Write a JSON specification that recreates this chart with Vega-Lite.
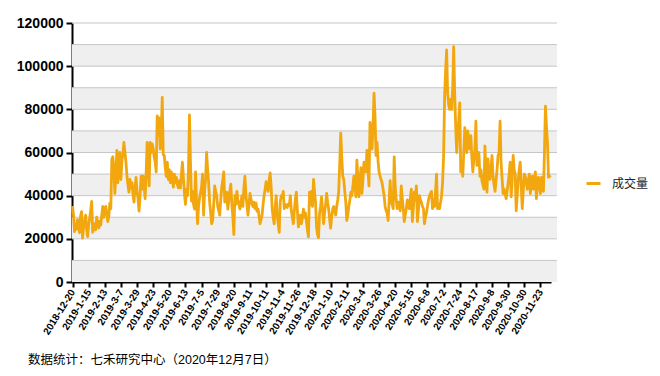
{
  "$schema": "https://vega.github.io/schema/vega-lite/v6.json",
  "width": 485,
  "height": 259,
  "autosize": "none",
  "padding": {"left": 72, "top": 23, "right": 103, "bottom": 94},
  "background": "#ffffff",
  "config": {
    "view": {"stroke": null},
    "axisY": {
      "title": null,
      "grid": false,
      "labelFont": "Liberation Sans",
      "labelFontSize": 14,
      "labelFontWeight": "bold",
      "labelColor": "#000000",
      "labelPadding": 3,
      "tickColor": "#000000",
      "tickWidth": 2,
      "tickSize": 6,
      "domainColor": "#000000",
      "domainWidth": 2
    }
  },
  "title": {
    "text": "数据统计：七禾研究中心（2020年12月7日）",
    "orient": "bottom",
    "anchor": "start",
    "frame": "group",
    "dx": -44,
    "offset": 18,
    "font": "Liberation Sans, Noto Sans CJK SC",
    "fontSize": 12.5,
    "fontWeight": "normal",
    "color": "#000000"
  },
  "datasets": {
    "bands": [
      {"lo": 0, "hi": 10000}, {"lo": 20000, "hi": 30000}, {"lo": 40000, "hi": 50000},
      {"lo": 60000, "hi": 70000}, {"lo": 80000, "hi": 90000}, {"lo": 100000, "hi": 110000}
    ],
    "grid": [
      {"g": 10000}, {"g": 20000}, {"g": 30000}, {"g": 40000}, {"g": 50000}, {"g": 60000},
      {"g": 70000}, {"g": 80000}, {"g": 90000}, {"g": 100000}, {"g": 110000}, {"g": 120000}
    ],
    "vol": [
{"d":"2018-12-20","v":35200},{"d":"2018-12-21","v":31000},{"d":"2018-12-24","v":23300},{"d":"2018-12-25","v":26800},{"d":"2018-12-26","v":24500},{"d":"2018-12-27","v":28900},{"d":"2018-12-28","v":25200},
{"d":"2019-1-2","v":22800},{"d":"2019-1-3","v":30500},{"d":"2019-1-4","v":32600},{"d":"2019-1-7","v":20300},{"d":"2019-1-8","v":25500},{"d":"2019-1-9","v":28000},{"d":"2019-1-10","v":31000},{"d":"2019-1-11","v":24500},{"d":"2019-1-14","v":21000},{"d":"2019-1-15","v":26500},{"d":"2019-1-16","v":29500},{"d":"2019-1-17","v":33000},{"d":"2019-1-18","v":37300},{"d":"2019-1-21","v":23000},{"d":"2019-1-22","v":25500},{"d":"2019-1-23","v":27000},{"d":"2019-1-24","v":24200},{"d":"2019-1-25","v":30000},{"d":"2019-1-28","v":27500},{"d":"2019-1-29","v":25000},{"d":"2019-1-30","v":28200},{"d":"2019-1-31","v":26300},
{"d":"2019-2-1","v":31000},{"d":"2019-2-11","v":35000},{"d":"2019-2-12","v":30000},{"d":"2019-2-13","v":33200},{"d":"2019-2-14","v":35000},{"d":"2019-2-15","v":31500},{"d":"2019-2-18","v":28000},{"d":"2019-2-19","v":30500},{"d":"2019-2-20","v":36500},{"d":"2019-2-21","v":34000},{"d":"2019-2-22","v":56800},{"d":"2019-2-25","v":58000},{"d":"2019-2-26","v":52500},{"d":"2019-2-27","v":41000},{"d":"2019-2-28","v":50000},
{"d":"2019-3-1","v":61000},{"d":"2019-3-4","v":46000},{"d":"2019-3-5","v":55000},{"d":"2019-3-6","v":60000},{"d":"2019-3-7","v":47500},{"d":"2019-3-8","v":56000},{"d":"2019-3-11","v":59500},{"d":"2019-3-12","v":64700},{"d":"2019-3-13","v":60000},{"d":"2019-3-14","v":55500},{"d":"2019-3-15","v":49000},{"d":"2019-3-18","v":45000},{"d":"2019-3-19","v":41600},{"d":"2019-3-20","v":47500},{"d":"2019-3-21","v":43500},{"d":"2019-3-22","v":46000},{"d":"2019-3-25","v":40500},{"d":"2019-3-26","v":37000},{"d":"2019-3-27","v":44000},{"d":"2019-3-28","v":48500},{"d":"2019-3-29","v":42000},
{"d":"2019-4-1","v":38500},{"d":"2019-4-2","v":32800},{"d":"2019-4-3","v":40000},{"d":"2019-4-4","v":49000},{"d":"2019-4-8","v":43000},{"d":"2019-4-9","v":49000},{"d":"2019-4-10","v":44500},{"d":"2019-4-11","v":38600},{"d":"2019-4-12","v":50000},{"d":"2019-4-15","v":64700},{"d":"2019-4-16","v":56000},{"d":"2019-4-17","v":44500},{"d":"2019-4-18","v":64700},{"d":"2019-4-19","v":60000},{"d":"2019-4-22","v":64000},{"d":"2019-4-23","v":62000},{"d":"2019-4-24","v":58000},{"d":"2019-4-25","v":55500},{"d":"2019-4-26","v":51000},{"d":"2019-4-29","v":77000},{"d":"2019-4-30","v":68000},
{"d":"2019-5-6","v":76000},{"d":"2019-5-7","v":61600},{"d":"2019-5-8","v":70000},{"d":"2019-5-9","v":85500},{"d":"2019-5-10","v":59000},{"d":"2019-5-13","v":58600},{"d":"2019-5-14","v":53000},{"d":"2019-5-15","v":49000},{"d":"2019-5-16","v":55500},{"d":"2019-5-17","v":47500},{"d":"2019-5-20","v":52000},{"d":"2019-5-21","v":46000},{"d":"2019-5-22","v":51000},{"d":"2019-5-23","v":47500},{"d":"2019-5-24","v":44000},{"d":"2019-5-27","v":50000},{"d":"2019-5-28","v":46000},{"d":"2019-5-29","v":48500},{"d":"2019-5-30","v":45000},{"d":"2019-5-31","v":43600},
{"d":"2019-6-3","v":47000},{"d":"2019-6-4","v":43600},{"d":"2019-6-5","v":50000},{"d":"2019-6-10","v":55500},{"d":"2019-6-11","v":48000},{"d":"2019-6-12","v":41000},{"d":"2019-6-13","v":36000},{"d":"2019-6-14","v":43000},{"d":"2019-6-17","v":40000},{"d":"2019-6-18","v":52000},{"d":"2019-6-19","v":77400},{"d":"2019-6-20","v":55500},{"d":"2019-6-21","v":37500},{"d":"2019-6-24","v":42000},{"d":"2019-6-25","v":36000},{"d":"2019-6-26","v":33800},{"d":"2019-6-27","v":51000},{"d":"2019-6-28","v":38000},
{"d":"2019-7-1","v":27000},{"d":"2019-7-2","v":35000},{"d":"2019-7-3","v":39000},{"d":"2019-7-4","v":41600},{"d":"2019-7-5","v":44000},{"d":"2019-7-8","v":50000},{"d":"2019-7-9","v":31000},{"d":"2019-7-10","v":42000},{"d":"2019-7-11","v":48000},{"d":"2019-7-12","v":60000},{"d":"2019-7-15","v":52000},{"d":"2019-7-16","v":46000},{"d":"2019-7-17","v":37000},{"d":"2019-7-18","v":32000},{"d":"2019-7-19","v":27000},{"d":"2019-7-22","v":28500},{"d":"2019-7-23","v":36000},{"d":"2019-7-24","v":44500},{"d":"2019-7-25","v":42000},{"d":"2019-7-26","v":40000},{"d":"2019-7-29","v":35000},{"d":"2019-7-30","v":33000},{"d":"2019-7-31","v":31000},
{"d":"2019-8-1","v":38000},{"d":"2019-8-2","v":44000},{"d":"2019-8-5","v":47000},{"d":"2019-8-6","v":51000},{"d":"2019-8-7","v":37000},{"d":"2019-8-8","v":39000},{"d":"2019-8-9","v":41600},{"d":"2019-8-12","v":33800},{"d":"2019-8-13","v":38000},{"d":"2019-8-14","v":42000},{"d":"2019-8-15","v":45300},{"d":"2019-8-16","v":36000},{"d":"2019-8-19","v":30000},{"d":"2019-8-20","v":22000},{"d":"2019-8-21","v":40000},{"d":"2019-8-22","v":36000},{"d":"2019-8-23","v":42000},{"d":"2019-8-26","v":38000},{"d":"2019-8-27","v":36000},{"d":"2019-8-28","v":33800},{"d":"2019-8-29","v":37000},{"d":"2019-8-30","v":40000},
{"d":"2019-9-2","v":35000},{"d":"2019-9-3","v":44000},{"d":"2019-9-4","v":49000},{"d":"2019-9-5","v":40000},{"d":"2019-9-6","v":36000},{"d":"2019-9-9","v":31000},{"d":"2019-9-10","v":36000},{"d":"2019-9-11","v":41000},{"d":"2019-9-12","v":38600},{"d":"2019-9-16","v":36000},{"d":"2019-9-17","v":35000},{"d":"2019-9-18","v":37000},{"d":"2019-9-19","v":34000},{"d":"2019-9-20","v":36500},{"d":"2019-9-23","v":32800},{"d":"2019-9-24","v":33800},{"d":"2019-9-25","v":30500},{"d":"2019-9-26","v":27000},{"d":"2019-9-27","v":29000},{"d":"2019-9-30","v":31000},
{"d":"2019-10-8","v":36000},{"d":"2019-10-9","v":40000},{"d":"2019-10-10","v":43000},{"d":"2019-10-11","v":46500},{"d":"2019-10-14","v":44000},{"d":"2019-10-15","v":42000},{"d":"2019-10-16","v":47000},{"d":"2019-10-17","v":50500},{"d":"2019-10-18","v":44000},{"d":"2019-10-21","v":33800},{"d":"2019-10-22","v":30000},{"d":"2019-10-23","v":27000},{"d":"2019-10-24","v":35000},{"d":"2019-10-25","v":40000},{"d":"2019-10-28","v":31000},{"d":"2019-10-29","v":27000},{"d":"2019-10-30","v":23000},{"d":"2019-10-31","v":37000},
{"d":"2019-11-1","v":40000},{"d":"2019-11-4","v":39000},{"d":"2019-11-5","v":42000},{"d":"2019-11-6","v":34000},{"d":"2019-11-7","v":36000},{"d":"2019-11-8","v":35600},{"d":"2019-11-11","v":34500},{"d":"2019-11-12","v":36000},{"d":"2019-11-13","v":35600},{"d":"2019-11-14","v":40000},{"d":"2019-11-15","v":33000},{"d":"2019-11-18","v":30000},{"d":"2019-11-19","v":27000},{"d":"2019-11-20","v":33000},{"d":"2019-11-21","v":38600},{"d":"2019-11-22","v":41600},{"d":"2019-11-25","v":33000},{"d":"2019-11-26","v":25500},{"d":"2019-11-27","v":29000},{"d":"2019-11-28","v":31000},{"d":"2019-11-29","v":27000},
{"d":"2019-12-2","v":30000},{"d":"2019-12-3","v":33800},{"d":"2019-12-4","v":30000},{"d":"2019-12-5","v":32000},{"d":"2019-12-6","v":28000},{"d":"2019-12-9","v":24000},{"d":"2019-12-10","v":21000},{"d":"2019-12-11","v":41600},{"d":"2019-12-12","v":36000},{"d":"2019-12-13","v":42000},{"d":"2019-12-16","v":35000},{"d":"2019-12-17","v":47500},{"d":"2019-12-18","v":42000},{"d":"2019-12-19","v":37000},{"d":"2019-12-20","v":25500},{"d":"2019-12-23","v":22000},{"d":"2019-12-24","v":20500},{"d":"2019-12-25","v":32000},{"d":"2019-12-26","v":35000},{"d":"2019-12-27","v":39500},{"d":"2019-12-30","v":33000},{"d":"2019-12-31","v":27000},
{"d":"2020-1-2","v":32000},{"d":"2020-1-3","v":36000},{"d":"2020-1-6","v":41000},{"d":"2020-1-7","v":37000},{"d":"2020-1-8","v":33800},{"d":"2020-1-9","v":29000},{"d":"2020-1-10","v":25000},{"d":"2020-1-13","v":30000},{"d":"2020-1-14","v":33800},{"d":"2020-1-15","v":35000},{"d":"2020-1-16","v":33000},{"d":"2020-1-17","v":31000},{"d":"2020-1-20","v":35000},{"d":"2020-1-21","v":38000},{"d":"2020-1-22","v":42000},{"d":"2020-1-23","v":55000},
{"d":"2020-2-3","v":69000},{"d":"2020-2-4","v":58000},{"d":"2020-2-5","v":49000},{"d":"2020-2-6","v":47500},{"d":"2020-2-7","v":42000},{"d":"2020-2-10","v":37000},{"d":"2020-2-11","v":28500},{"d":"2020-2-12","v":31000},{"d":"2020-2-13","v":35000},{"d":"2020-2-14","v":38000},{"d":"2020-2-17","v":41600},{"d":"2020-2-18","v":40000},{"d":"2020-2-19","v":44000},{"d":"2020-2-20","v":49000},{"d":"2020-2-21","v":45000},{"d":"2020-2-24","v":39500},{"d":"2020-2-25","v":56500},{"d":"2020-2-26","v":48000},{"d":"2020-2-27","v":39500},{"d":"2020-2-28","v":46000},
{"d":"2020-3-2","v":53000},{"d":"2020-3-3","v":41000},{"d":"2020-3-4","v":47000},{"d":"2020-3-5","v":55500},{"d":"2020-3-6","v":53000},{"d":"2020-3-9","v":51000},{"d":"2020-3-10","v":61000},{"d":"2020-3-11","v":52000},{"d":"2020-3-12","v":44500},{"d":"2020-3-13","v":74000},{"d":"2020-3-16","v":71000},{"d":"2020-3-17","v":61600},{"d":"2020-3-18","v":72000},{"d":"2020-3-19","v":87500},{"d":"2020-3-20","v":77000},{"d":"2020-3-23","v":58600},{"d":"2020-3-24","v":64700},{"d":"2020-3-25","v":56000},{"d":"2020-3-26","v":51000},{"d":"2020-3-27","v":49000},{"d":"2020-3-30","v":47500},{"d":"2020-3-31","v":46000},
{"d":"2020-4-1","v":43000},{"d":"2020-4-2","v":40000},{"d":"2020-4-3","v":35000},{"d":"2020-4-7","v":33000},{"d":"2020-4-8","v":32000},{"d":"2020-4-9","v":28500},{"d":"2020-4-10","v":38000},{"d":"2020-4-13","v":47000},{"d":"2020-4-14","v":37000},{"d":"2020-4-15","v":36000},{"d":"2020-4-16","v":34000},{"d":"2020-4-17","v":58000},{"d":"2020-4-20","v":44500},{"d":"2020-4-21","v":38000},{"d":"2020-4-22","v":34000},{"d":"2020-4-23","v":37000},{"d":"2020-4-24","v":35500},{"d":"2020-4-27","v":33000},{"d":"2020-4-28","v":44500},{"d":"2020-4-29","v":39000},{"d":"2020-4-30","v":34000},
{"d":"2020-5-6","v":28000},{"d":"2020-5-7","v":31000},{"d":"2020-5-8","v":34000},{"d":"2020-5-11","v":38000},{"d":"2020-5-12","v":35000},{"d":"2020-5-13","v":34000},{"d":"2020-5-14","v":39000},{"d":"2020-5-15","v":43000},{"d":"2020-5-18","v":28000},{"d":"2020-5-19","v":34000},{"d":"2020-5-20","v":41600},{"d":"2020-5-21","v":38000},{"d":"2020-5-22","v":44500},{"d":"2020-5-25","v":28000},{"d":"2020-5-26","v":33000},{"d":"2020-5-27","v":40000},{"d":"2020-5-28","v":38000},{"d":"2020-5-29","v":37000},
{"d":"2020-6-1","v":35000},{"d":"2020-6-2","v":34000},{"d":"2020-6-3","v":27000},{"d":"2020-6-4","v":30000},{"d":"2020-6-5","v":32000},{"d":"2020-6-8","v":35000},{"d":"2020-6-9","v":38000},{"d":"2020-6-10","v":40000},{"d":"2020-6-11","v":41000},{"d":"2020-6-12","v":42000},{"d":"2020-6-15","v":34000},{"d":"2020-6-16","v":38000},{"d":"2020-6-17","v":35000},{"d":"2020-6-18","v":42000},{"d":"2020-6-19","v":50000},{"d":"2020-6-22","v":34000},{"d":"2020-6-23","v":36000},{"d":"2020-6-24","v":34000},{"d":"2020-6-29","v":37000},{"d":"2020-6-30","v":40000},
{"d":"2020-7-1","v":46000},{"d":"2020-7-2","v":58600},{"d":"2020-7-3","v":86000},{"d":"2020-7-6","v":98000},{"d":"2020-7-7","v":107500},{"d":"2020-7-8","v":87500},{"d":"2020-7-9","v":82000},{"d":"2020-7-10","v":80000},{"d":"2020-7-13","v":84600},{"d":"2020-7-14","v":80000},{"d":"2020-7-15","v":90000},{"d":"2020-7-16","v":109000},{"d":"2020-7-17","v":87500},{"d":"2020-7-20","v":72000},{"d":"2020-7-21","v":60000},{"d":"2020-7-22","v":67800},{"d":"2020-7-23","v":75000},{"d":"2020-7-24","v":83000},{"d":"2020-7-27","v":51000},{"d":"2020-7-28","v":55000},{"d":"2020-7-29","v":49000},{"d":"2020-7-30","v":60000},{"d":"2020-7-31","v":71500},
{"d":"2020-8-3","v":65000},{"d":"2020-8-4","v":60000},{"d":"2020-8-5","v":70000},{"d":"2020-8-6","v":64000},{"d":"2020-8-7","v":61600},{"d":"2020-8-10","v":67800},{"d":"2020-8-11","v":58000},{"d":"2020-8-12","v":51000},{"d":"2020-8-13","v":57000},{"d":"2020-8-14","v":61600},{"d":"2020-8-17","v":74500},{"d":"2020-8-18","v":54000},{"d":"2020-8-19","v":58000},{"d":"2020-8-20","v":60000},{"d":"2020-8-21","v":49000},{"d":"2020-8-24","v":52000},{"d":"2020-8-25","v":47000},{"d":"2020-8-26","v":45000},{"d":"2020-8-27","v":43000},{"d":"2020-8-28","v":63000},{"d":"2020-8-31","v":50000},
{"d":"2020-9-1","v":41600},{"d":"2020-9-2","v":57000},{"d":"2020-9-3","v":50000},{"d":"2020-9-4","v":47500},{"d":"2020-9-7","v":53000},{"d":"2020-9-8","v":58600},{"d":"2020-9-9","v":49000},{"d":"2020-9-10","v":45000},{"d":"2020-9-11","v":42000},{"d":"2020-9-14","v":47000},{"d":"2020-9-15","v":52000},{"d":"2020-9-16","v":58600},{"d":"2020-9-17","v":60000},{"d":"2020-9-18","v":74500},{"d":"2020-9-21","v":55500},{"d":"2020-9-22","v":48000},{"d":"2020-9-23","v":41000},{"d":"2020-9-24","v":43000},{"d":"2020-9-25","v":41000},{"d":"2020-9-28","v":38600},{"d":"2020-9-29","v":42000},{"d":"2020-9-30","v":46000},
{"d":"2020-10-9","v":50000},{"d":"2020-10-12","v":55500},{"d":"2020-10-13","v":39500},{"d":"2020-10-14","v":48000},{"d":"2020-10-15","v":58600},{"d":"2020-10-16","v":52000},{"d":"2020-10-19","v":50000},{"d":"2020-10-20","v":33000},{"d":"2020-10-21","v":40000},{"d":"2020-10-22","v":47500},{"d":"2020-10-23","v":52000},{"d":"2020-10-26","v":55500},{"d":"2020-10-27","v":44000},{"d":"2020-10-28","v":34000},{"d":"2020-10-29","v":42000},{"d":"2020-10-30","v":50000},
{"d":"2020-11-2","v":49000},{"d":"2020-11-3","v":46000},{"d":"2020-11-4","v":43000},{"d":"2020-11-5","v":47000},{"d":"2020-11-6","v":50000},{"d":"2020-11-9","v":41000},{"d":"2020-11-10","v":45000},{"d":"2020-11-11","v":49000},{"d":"2020-11-12","v":43000},{"d":"2020-11-13","v":47000},{"d":"2020-11-16","v":51000},{"d":"2020-11-17","v":38600},{"d":"2020-11-18","v":44000},{"d":"2020-11-19","v":48500},{"d":"2020-11-20","v":45000},{"d":"2020-11-23","v":41000},{"d":"2020-11-24","v":48500},{"d":"2020-11-25","v":44000},{"d":"2020-11-26","v":42000},{"d":"2020-11-27","v":60000},{"d":"2020-11-30","v":81500},
{"d":"2020-12-1","v":72000},{"d":"2020-12-2","v":64700},{"d":"2020-12-3","v":48500},{"d":"2020-12-4","v":49000},{"d":"2020-12-7","v":48500}
    ]
  },
  "layer": [
    {
      "data": {"name": "bands"},
      "mark": {"type": "rect", "color": "#efefef"},
      "encoding": {
        "y": {
          "field": "lo",
          "type": "quantitative",
          "scale": {"domain": [0, 120000], "nice": false},
          "axis": {"title": null, "values": [0, 20000, 40000, 60000, 80000, 100000, 120000], "format": "d"}
        },
        "y2": {"field": "hi"}
      }
    },
    {
      "data": {"name": "grid"},
      "mark": {"type": "rule", "color": "#c6c6c6", "strokeWidth": 1},
      "encoding": {
        "y": {
          "field": "g",
          "type": "quantitative",
          "axis": {"title": null, "values": [0, 20000, 40000, 60000, 80000, 100000, 120000], "format": "d"}
        }
      }
    },
    {
      "data": {"name": "vol"},
      "mark": {"type": "line", "strokeWidth": 2.8, "strokeJoin": "round", "interpolate": "linear"},
      "encoding": {
        "x": {
          "field": "d",
          "type": "ordinal",
          "sort": null,
          "scale": {"type": "point", "range": [0, 479]},
          "axis": {
            "title": null,
            "values": ["2018-12-20","2019-1-15","2019-2-13","2019-3-7","2019-3-29","2019-4-23","2019-5-20","2019-6-13","2019-7-5","2019-7-29","2019-8-20","2019-9-11","2019-10-11","2019-11-4","2019-11-26","2019-12-18","2020-1-10","2020-2-11","2020-3-4","2020-3-26","2020-4-20","2020-5-15","2020-6-8","2020-7-2","2020-7-24","2020-8-17","2020-9-8","2020-9-30","2020-10-30","2020-11-23"],
            "labelAngle": -58,
            "labelAlign": "right",
            "labelBaseline": "middle",
            "labelFont": "Liberation Sans",
            "labelFontSize": 10,
            "labelFontWeight": "bold",
            "labelColor": "#000000",
            "labelPadding": 3,
            "labelOverlap": false,
            "tickColor": "#000000",
            "tickWidth": 2,
            "tickSize": 5,
            "domainColor": "#000000",
            "domainWidth": 2,
            "grid": false
          }
        },
        "y": {
          "field": "v",
          "type": "quantitative",
          "axis": {"title": null, "values": [0, 20000, 40000, 60000, 80000, 100000, 120000], "format": "d"}
        },
        "color": {
          "datum": "成交量",
          "type": "nominal",
          "scale": {"range": ["#F2A70F"]},
          "legend": {
            "title": null,
            "orient": "none",
            "legendX": 513,
            "legendY": 152,
            "padding": 0,
            "symbolType": "stroke",
            "symbolStrokeWidth": 3,
            "symbolSize": 196,
            "labelFont": "Noto Sans CJK SC",
            "labelFontSize": 12,
            "labelColor": "#222222",
            "labelOffset": 10
          }
        }
      }
    }
  ]
}
